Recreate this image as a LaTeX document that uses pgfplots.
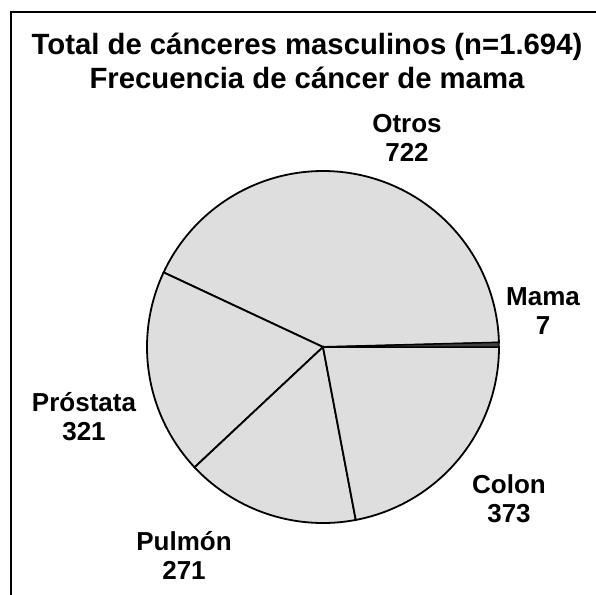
\documentclass[border=0pt]{standalone}
\usepackage{pgfplots}
\pgfplotsset{compat=1.18}
\usepackage{pgfplotstable}
\usepackage{fontspec}
\setmainfont{Liberation Sans}
\definecolor{slice}{HTML}{DEDEDE}
\definecolor{dark}{HTML}{404040}
\pgfplotstableread{
name value
Mama 7
Otros 722
Prostata 321
Pulmon 271
Colon 373
}\piedata
\begin{document}
\begin{tikzpicture}
\pgfmathsetmacro{\tot}{1694}
\pgfplotstablegetelem{0}{value}\of\piedata \pgfmathsetmacro{\va}{\pgfplotsretval}
\pgfplotstablegetelem{1}{value}\of\piedata \pgfmathsetmacro{\vb}{\pgfplotsretval}
\pgfplotstablegetelem{2}{value}\of\piedata \pgfmathsetmacro{\vc}{\pgfplotsretval}
\pgfplotstablegetelem{3}{value}\of\piedata \pgfmathsetmacro{\vd}{\pgfplotsretval}
\pgfplotstablegetelem{4}{value}\of\piedata \pgfmathsetmacro{\ve}{\pgfplotsretval}
\pgfmathsetmacro{\aa}{0}
\pgfmathsetmacro{\ab}{\aa+(\va/\tot)*360}
\pgfmathsetmacro{\ac}{\ab+(\vb/\tot)*360}
\pgfmathsetmacro{\ad}{\ac+(\vc/\tot)*360}
\pgfmathsetmacro{\ae}{\ad+(\vd/\tot)*360}
\pgfmathsetmacro{\af}{360}
\begin{axis}[
  width=596bp, height=595bp, scale only axis,
  xmin=0, xmax=596, ymin=0, ymax=595, y dir=reverse,
  hide axis, clip=false,
]
\def\cx{323}\def\cy{347}\def\R{176}
\addplot[fill=slice, draw=black, line width=1.8bp, domain=\ab:\ac, samples=120, variable=\t]
  ({\cx+\R*cos(\t)},{\cy-\R*sin(\t)}) -- (axis cs:\cx,\cy) -- cycle;
\addplot[fill=slice, draw=black, line width=1.8bp, domain=\ac:\ad, samples=60, variable=\t]
  ({\cx+\R*cos(\t)},{\cy-\R*sin(\t)}) -- (axis cs:\cx,\cy) -- cycle;
\addplot[fill=slice, draw=black, line width=1.8bp, domain=\ad:\ae, samples=60, variable=\t]
  ({\cx+\R*cos(\t)},{\cy-\R*sin(\t)}) -- (axis cs:\cx,\cy) -- cycle;
\addplot[fill=slice, draw=black, line width=1.8bp, domain=\ae:\af, samples=60, variable=\t]
  ({\cx+\R*cos(\t)},{\cy-\R*sin(\t)}) -- (axis cs:\cx,\cy) -- cycle;
\addplot[fill=dark, draw=black, line width=1.2bp, domain=\aa:\ab, samples=5, variable=\t]
  ({\cx+\R*cos(\t)},{\cy-\R*sin(\t)}) -- (axis cs:\cx,\cy) -- cycle;
% frame
\draw[line width=2.5bp] (axis cs:11,596) -- (axis cs:11,12) -- (axis cs:597,12);
% title
\node[font=\fontsize{29.3bp}{34bp}\selectfont\bfseries, align=center] at (axis cs:307,61)
  {Total de cánceres masculinos (n=1.694)\\Frecuencia de cáncer de mama};
\tikzset{lab/.style={font=\fontsize{26bp}{29bp}\selectfont\bfseries, align=center}}
\node[lab] at (axis cs:407,138) {Otros\\722};
\node[lab] at (axis cs:543,311) {Mama\\7};
\node[lab] at (axis cs:509,499) {Colon\\373};
\node[lab] at (axis cs:184,555) {Pulmón\\271};
\node[lab] at (axis cs:84,417) {Próstata\\321};
\end{axis}
\pgfresetboundingbox
\useasboundingbox (0,0) rectangle (596bp,595bp);
\end{tikzpicture}
\end{document}
